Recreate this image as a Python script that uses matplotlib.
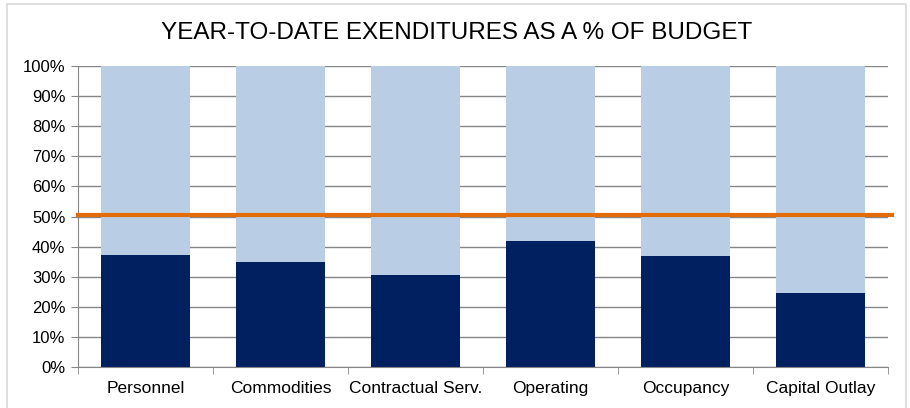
import numpy as np
import matplotlib.pyplot as plt
from matplotlib.patches import Rectangle
from matplotlib.ticker import PercentFormatter

plt.rcParams['font.family'] = ['Liberation Sans', 'DejaVu Sans']

categories = ['Personnel', 'Commodities', 'Contractual Serv.', 'Operating', 'Occupancy', 'Capital Outlay']
spent = [37.1, 35.0, 30.5, 41.8, 36.8, 24.5]
remaining = [100 - v for v in spent]
target = 50.4

fig = plt.figure(figsize=(9.1, 4.08), dpi=100)
# light grey chart-area border, slightly inset like the original
fig.patches.append(Rectangle((7 / 910, -0.01), 899 / 910, 1 - 4 / 408 + 0.01,
                             transform=fig.transFigure, fill=False,
                             edgecolor='#d9d9d9', linewidth=1.2))
ax = fig.add_axes([0.0857, 0.1005, 0.890, 0.7375])

x = np.arange(len(categories))
ax.bar(x, spent, width=0.66, color='#002060', zorder=2)
ax.bar(x, remaining, width=0.66, bottom=spent, color='#b9cde5', zorder=2)
ax.plot([-0.5, len(categories) - 0.5 + 0.03], [target, target], color='#e36c0a',
        linewidth=3, zorder=3, clip_on=False)

ax.set_xlim(-0.5, len(categories) - 0.5)
ax.set_ylim(0, 100)
ax.set_yticks(np.arange(0, 101, 10))
ax.yaxis.set_major_formatter(PercentFormatter(decimals=0))
ax.set_xticks(x)
ax.set_xticklabels(categories)
ax.set_xticks(np.arange(-0.5, len(categories)), minor=True)
ax.tick_params(axis='x', which='major', length=0, pad=10, labelsize=12.5)
ax.tick_params(axis='x', which='minor', length=5, color='#868686')
ax.tick_params(axis='y', length=5, color='#868686', labelsize=12, pad=4)
ax.grid(axis='y', color='#868686', linewidth=1, zorder=0)

for side in ['top', 'right']:
    ax.spines[side].set_visible(False)
for side in ['left', 'bottom']:
    ax.spines[side].set_color('#868686')

fig.text(0.502, 1 - 33 / 408, 'YEAR-TO-DATE EXENDITURES AS A % OF BUDGET',
         ha='center', va='center', fontsize=17.5)

fig.savefig('out.png', dpi=100)
